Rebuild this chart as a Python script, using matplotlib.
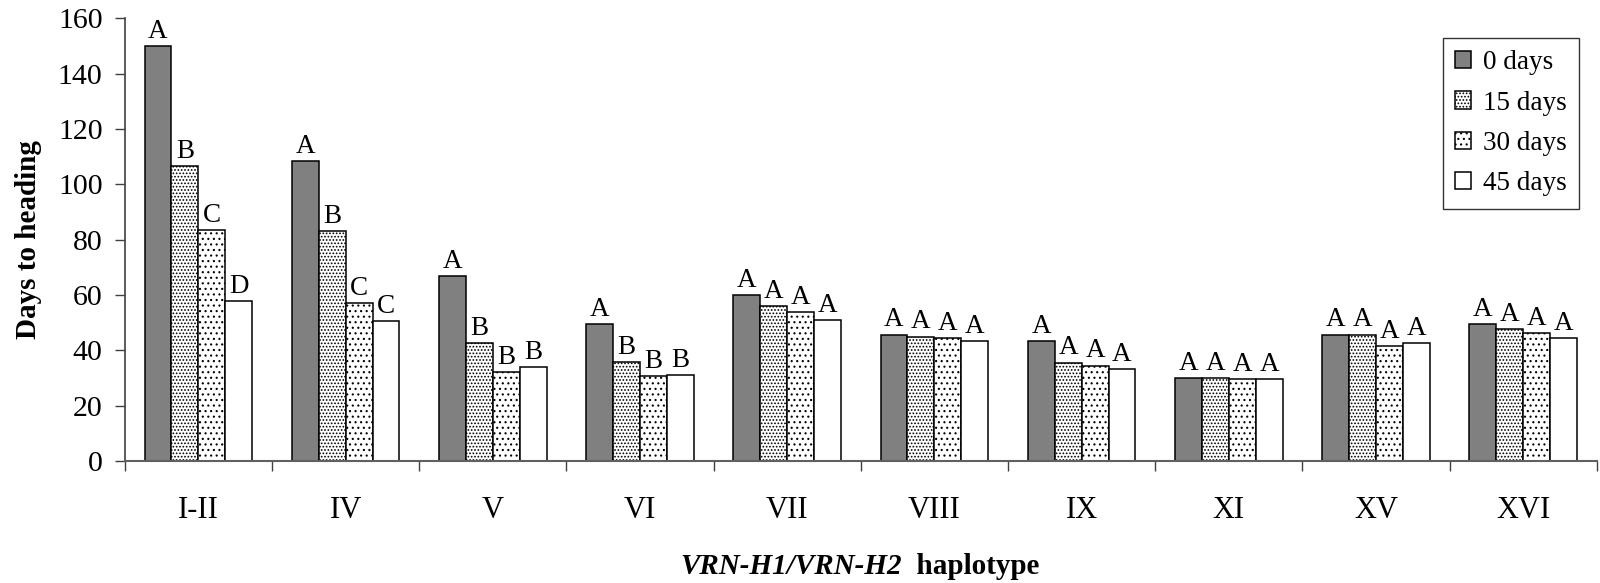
import matplotlib
matplotlib.use("Agg")
import matplotlib.pyplot as plt
import numpy as np

plt.rcParams['font.family'] = ['Liberation Serif', 'DejaVu Serif']
plt.rcParams['hatch.linewidth'] = 0.8

haplotypes = ['I-II', 'IV', 'V', 'VI', 'VII', 'VIII', 'IX', 'XI', 'XV', 'XVI']
series_names = ['0 days', '15 days', '30 days', '45 days']

days0 = [150.0, 108.6, 66.9, 49.4, 59.9, 45.7, 43.3, 30.1, 45.7, 49.5]
days15 = [106.7, 83.0, 42.7, 35.7, 56.0, 45.0, 35.6, 30.1, 45.7, 47.7]
days30 = [83.4, 57.2, 32.3, 30.7, 53.9, 44.5, 34.5, 29.6, 41.7, 46.2]
days45 = [57.7, 50.5, 34.0, 31.2, 51.1, 43.3, 33.4, 29.6, 42.8, 44.5]

letters0 = ['A', 'A', 'A', 'A', 'A', 'A', 'A', 'A', 'A', 'A']
letters15 = ['B', 'B', 'B', 'B', 'A', 'A', 'A', 'A', 'A', 'A']
letters30 = ['C', 'C', 'B', 'B', 'A', 'A', 'A', 'A', 'A', 'A']
letters45 = ['D', 'C', 'B', 'B', 'A', 'A', 'A', 'A', 'A', 'A']

values = [days0, days15, days30, days45]
letters = [letters0, letters15, letters30, letters45]
faces = ['#808080', 'white', 'white', 'white']
hatches = [None, '.....', '...', None]

fig = plt.figure(figsize=(16, 5.83), dpi=100)
ax = fig.add_axes([0.078, 0.2093, 0.92, 0.7591])

x = np.arange(len(haplotypes))
width = 0.183
for i in range(4):
    pos = x + (i - 1.5) * width
    bars = ax.bar(pos, values[i], width, color=faces[i], edgecolor='black',
                  linewidth=1.1, hatch=hatches[i], label=series_names[i])
    for b, lab in zip(bars, letters[i]):
        ax.annotate(lab, (b.get_x() + b.get_width() / 2, b.get_height()),
                    xytext=(0, 1.5), textcoords='offset points',
                    ha='center', va='bottom', fontsize=19.5)

ax.set_xlim(-0.5, len(haplotypes) - 0.5)
ax.set_ylim(0, 160)
ax.set_yticks(range(0, 161, 20))
ax.tick_params(axis='y', labelsize=21.5, length=7, width=1, pad=9,
               color='#404040', direction='out')

ax.set_xticks(np.arange(len(haplotypes) + 1) - 0.5)
ax.set_xticklabels([])
ax.set_xticks(x, minor=True)
ax.set_xticklabels(haplotypes, minor=True)
ax.tick_params(axis='x', which='major', length=7, width=1, color='#404040', direction='out')
ax.tick_params(axis='x', which='minor', length=0, pad=25, labelsize=22)

for s in ['top', 'right']:
    ax.spines[s].set_visible(False)
ax.spines['left'].set_color('#404040')
ax.spines['bottom'].set_color('#606060')
ax.spines['left'].set_linewidth(1.2)
ax.spines['bottom'].set_linewidth(1.5)

ax.set_ylabel('Days to heading', fontsize=21, fontweight='bold')
ax.yaxis.set_label_coords(-0.056, 0.5)

t1 = fig.text(0.564, 0.006, 'VRN-H1/VRN-H2', fontsize=21, fontweight='bold',
              style='italic', ha='right', va='bottom')
ax.annotate('  haplotype', xy=(1, 0), xycoords=t1, ha='left', va='bottom',
            fontsize=21, fontweight='bold')

leg = ax.legend(loc='upper right', bbox_to_anchor=(0.988, 0.956), borderaxespad=0,
                fontsize=19.5, frameon=True, fancybox=False, handlelength=0.6,
                handleheight=0.6, handletextpad=0.45, labelspacing=0.57,
                borderpad=0.45)
leg.get_frame().set_edgecolor('black')
leg.get_frame().set_linewidth(1.0)

fig.savefig('out.png', dpi=100)
